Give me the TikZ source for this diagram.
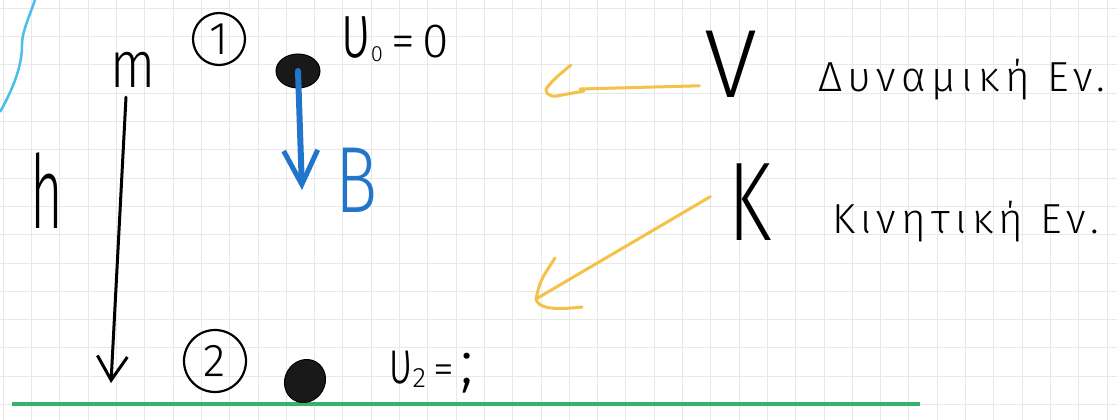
\documentclass[tikz,border=0pt]{standalone}
\usepackage{fontspec}
\IfFontExistsTF{Fira Sans Light}{\setmainfont{Fira Sans Light}}{\setmainfont{DejaVu Sans}}
\usepackage{graphicx}
\usetikzlibrary{arrows.meta, shapes.geometric}

\definecolor{gridgrey}{RGB}{232,232,232}
\definecolor{penblue}{RGB}{33,118,204}
\definecolor{penyellow}{RGB}{243,194,70}
\definecolor{pengreen}{RGB}{52,178,110}
\definecolor{skyblue}{RGB}{72,190,232}

\newcommand{\fsz}[1]{\fontsize{#1}{#1}\selectfont}

\begin{document}
\begin{tikzpicture}[
    x=1pt, y=-1pt,
    gridline/.style={gridgrey, line width=0.9pt},
    hand/.style={inner sep=0pt, font=\fsz{42}\addfontfeature{LetterSpace=13}},
    ball/.style={ellipse, fill=black!90, draw=black, line width=1pt, inner sep=0pt},
    numring/.style={circle, draw, line width=2.2pt, inner sep=0pt, font=\fsz{46}},
    inkarrow/.style={black, line width=3pt, line cap=round, -{Straight Barb[length=24pt, width=30pt, line width=3pt]}},
    bluearrow/.style={penblue, line width=6pt, line cap=round, -{Straight Barb[length=34pt, width=34pt, line width=5pt]}},
    yline/.style={penyellow, line width=3pt, line cap=round, line join=round},
    ground/.style={pengreen, line width=4pt},
    skyline/.style={skyblue, line width=2.5pt}
]

% Paper
\fill[white] (0,0) rectangle (1117,420);
\useasboundingbox (0,0) rectangle (1117,420);
\foreach \gx in {0,...,39}
    \draw[gridline] (3.3+28.3*\gx,0) -- (3.3+28.3*\gx,420);
\foreach \gy in {0,...,14}
    \draw[gridline] (0,8.3+28.3*\gy) -- (1117,8.3+28.3*\gy);

% Stray stroke and ground
\draw[skyline] (35,0) .. controls (28,20) and (22,32) .. (22,45) .. controls (22,60) and (18,80) .. (0,112);
\draw[ground] (12,404) -- (920,404);

% Left side: mass, height, positions
\node[hand, font=\fsz{66}, anchor=base] (mass) at (133,88) {\scalebox{0.8}[1]{m}};
\node[hand, font=\fsz{102}, anchor=base] (height) at (47,228) {\scalebox{0.55}[1]{h}};
\node[numring, minimum size=52pt] (pos1) at (219,39) {1};
\node[numring, minimum size=62pt] (pos2) at (215,361) {2};
\node[ball, minimum width=44pt, minimum height=34pt] (ball1) at (298,71) {};
\node[ball, minimum width=40pt, minimum height=44pt, rotate=-30] (ball2) at (305,381) {};

% Speeds
\node[hand, anchor=base west] (vel1) at (340,58)
    {{\fsz{78}\scalebox{0.7}[1]{υ}}\raisebox{-4pt}{\fsz{22}0}{\fsz{48}\,=\,0}};
\node[hand, anchor=base west] (vel2) at (388,383)
    {{\fsz{62}\scalebox{0.7}[1]{υ}}\raisebox{-4pt}{\fsz{28}2}{\fsz{42}\,=\,}{\fsz{64};}};

% Weight
\node[hand, font=\fsz{94}, text=penblue, anchor=base] (weight) at (357,212) {\scalebox{0.75}[1]{B}};

% Energies
\node[hand, font=\fsz{97}, anchor=base] (potsym) at (731,97) {V};
\node[hand, anchor=base west] (potname) at (818,92) {Δυναμική Εν.};
\node[hand, font=\fsz{112}, anchor=base] (kinsym) at (750,240) {\scalebox{0.7}[1]{K}};
\node[hand, anchor=base west] (kinname) at (832,233) {Κινητική Εν.};

% Arrow ends
\coordinate (hend) at (111,383);
\coordinate (btip) at (302,190);
\coordinate (vtip) at (546,89);
\coordinate (ktip) at (536,299);

% Arrows
\draw[inkarrow] ([shift={(-7,9)}]mass.south) -- (hend);
\draw[bluearrow] (ball1.center) -- (btip);
\draw[yline] ([shift={(-5,22)}]potsym.west) -- ([shift={(34,0)}]vtip);
\draw[yline] ([shift={(25,-24)}]vtip) .. controls ([shift={(8,-10)}]vtip) .. (vtip)
    .. controls ([shift={(0,8)}]vtip) and ([shift={(8,8)}]vtip) .. ([shift={(16,6)}]vtip) -- ([shift={(38,2)}]vtip);
\draw[yline] ([shift={(-18,-5)}]kinsym.west) -- (ktip);
\draw[yline] ([shift={(19,-41)}]ktip) .. controls ([shift={(4,-18)}]ktip) .. (ktip)
    .. controls ([shift={(2,10)}]ktip) and ([shift={(20,11)}]ktip) .. ([shift={(46,8)}]ktip);

\end{tikzpicture}
\end{document}
